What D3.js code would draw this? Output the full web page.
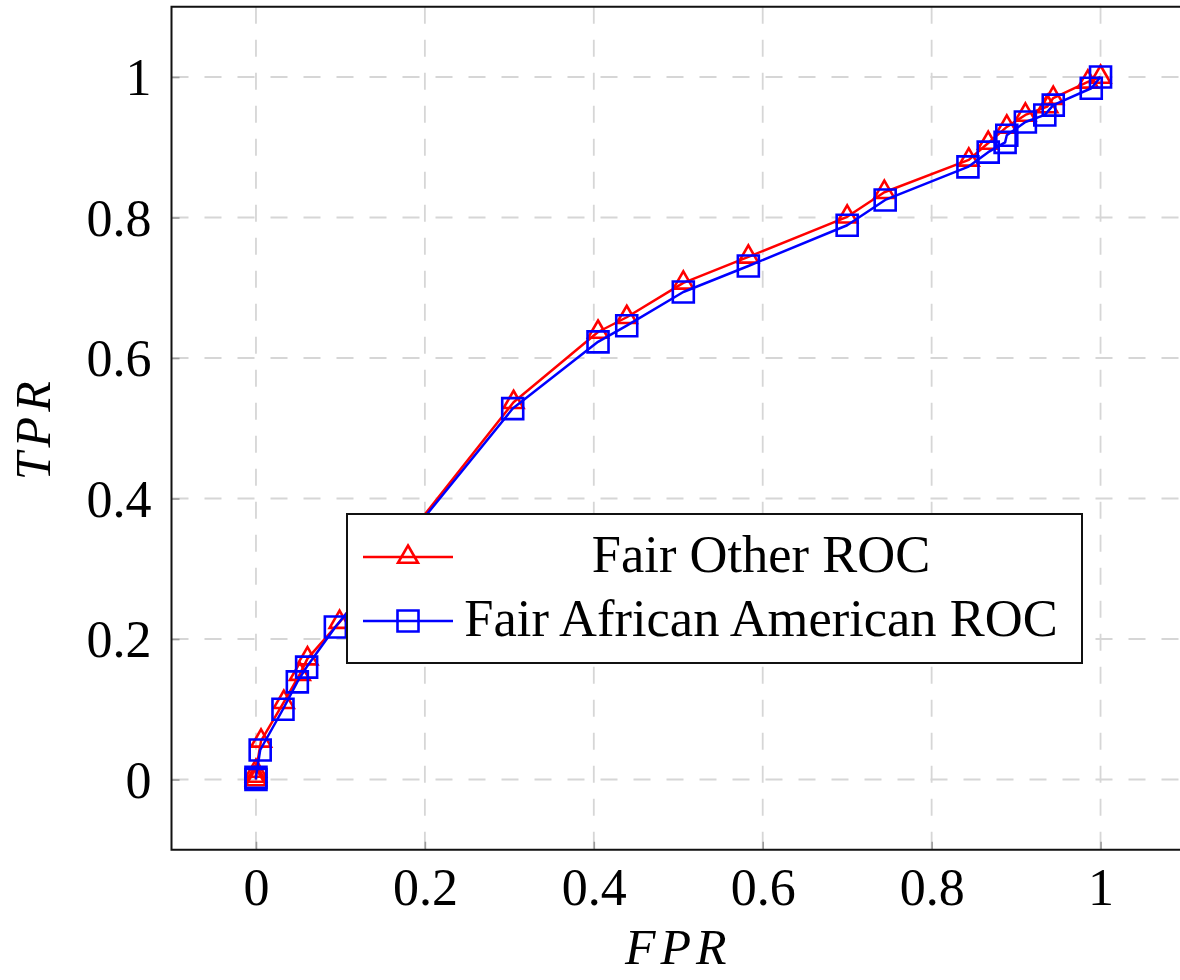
<!DOCTYPE html>
<html>
<head>
<meta charset="utf-8">
<script src="https://cdn.jsdelivr.net/npm/d3@7/dist/d3.min.js"></script>
<style>
  html, body { margin: 0; padding: 0; background: #fff; }
  svg { display: block; }
  text { font-family: "Liberation Serif", "DejaVu Serif", serif; fill: #000; }
</style>
</head>
<body>
<svg id="chart" width="1180" height="980"></svg>
<script>
// ---- data ----
const otherFPR = [0, 0, 0, 0.006, 0.033, 0.052, 0.061, 0.099, 0.305, 0.405, 0.439, 0.506, 0.583, 0.700, 0.744, 0.844, 0.867, 0.889, 0.911, 0.937, 0.944, 0.985, 1];
const otherTPR = [0, 0.005, 0.012, 0.055, 0.110, 0.150, 0.172, 0.224, 0.537, 0.637, 0.658, 0.707, 0.744, 0.801, 0.836, 0.882, 0.906, 0.929, 0.946, 0.958, 0.970, 0.993, 1];
const aaFPR = [0, 0, 0.005, 0.032, 0.049, 0.060, 0.094, 0.304, 0.405, 0.439, 0.506, 0.583, 0.700, 0.745, 0.843, 0.867, 0.887, 0.889, 0.911, 0.934, 0.944, 0.989, 1];
const aaTPR = [0, 0.003, 0.042, 0.100, 0.139, 0.160, 0.217, 0.528, 0.623, 0.646, 0.694, 0.731, 0.789, 0.825, 0.872, 0.893, 0.907, 0.917, 0.936, 0.946, 0.960, 0.984, 1];
const xTicks = [0, 0.2, 0.4, 0.6, 0.8, 1];
const yTicks = [0, 0.2, 0.4, 0.6, 0.8, 1];
const xTickLabels = ["0", "0.2", "0.4", "0.6", "0.8", "1"];
const yTickLabels = ["0", "0.2", "0.4", "0.6", "0.8", "1"];
const seriesNames = ["Fair Other ROC", "Fair African American ROC"];
const xTitle = "FPR";
const yTitle = "TPR";

// ---- layout ----
const svg = d3.select("#chart");
const pL = 171.5, pR = 1185, pT = 6.75, pB = 849.75;
const x = d3.scaleLinear().domain([-0.1, 1.1]).range([pL, pR]);
const y = d3.scaleLinear().domain([-0.1, 1.1]).range([pB, pT]);

// grid
const grid = svg.append("g");
grid.selectAll("line.gx").data(xTicks).join("line")
  .attr("x1", d => x(d)).attr("x2", d => x(d))
  .attr("y1", pT).attr("y2", pB)
  .attr("stroke", "#d6d6d6").attr("stroke-width", 1.8)
  .attr("stroke-dasharray", "17,16");
grid.selectAll("line.gy").data(yTicks).join("line")
  .attr("y1", d => y(d)).attr("y2", d => y(d))
  .attr("x1", pL).attr("x2", pR)
  .attr("stroke", "#d6d6d6").attr("stroke-width", 1.8)
  .attr("stroke-dasharray", "17,16");

// axes via d3 axis (ticks inside, gray)
const xAxis = d3.axisBottom(x).tickValues(xTicks).tickFormat((d, i) => xTickLabels[i]).tickSize(-8).tickPadding(22);
const yAxis = d3.axisLeft(y).tickValues(yTicks).tickFormat((d, i) => yTickLabels[i]).tickSize(-8).tickPadding(22);
const gx = svg.append("g").attr("transform", `translate(0,${pB})`).call(xAxis);
const gy = svg.append("g").attr("transform", `translate(${pL},0)`).call(yAxis);
[gx, gy].forEach(g => {
  g.select(".domain").remove();
  g.selectAll(".tick line").attr("stroke", "#9a9a9a").attr("stroke-width", 1.6);
  g.selectAll(".tick text").style("font-family", '"Liberation Serif", serif').style("font-size", "52px").attr("fill", "#000");
});
gx.selectAll(".tick text").attr("dy", "0.71em").attr("y", 18);
gy.selectAll(".tick text").attr("dy", "0.34em").attr("x", -20);

// frame
svg.append("rect").attr("x", pL).attr("y", pT)
  .attr("width", pR - pL).attr("height", pB - pT)
  .attr("fill", "none").attr("stroke", "#111").attr("stroke-width", 2);

// series
const triPath = r => `M0,${-r}L${r * Math.sqrt(3) / 2},${r / 2}L${-r * Math.sqrt(3) / 2},${r / 2}Z`;
const sqPath = s => `M${-s / 2},${-s / 2}h${s}v${s}h${-s}Z`;

const series = [
  { name: seriesNames[0], xs: otherFPR, ys: otherTPR, color: "#ff0000", mark: triPath(11.5) },
  { name: seriesNames[1], xs: aaFPR, ys: aaTPR, color: "#0000ff", mark: sqPath(21) }
];

const line = d3.line().x(d => x(d[0])).y(d => y(d[1]));
series.forEach(s => {
  const pts = s.xs.map((v, i) => [v, s.ys[i]]);
  const g = svg.append("g");
  g.append("path").attr("d", line(pts)).attr("fill", "none")
    .attr("stroke", s.color).attr("stroke-width", 2.5).attr("stroke-linejoin", "round");
  g.selectAll("path.m").data(pts).join("path").attr("class", "m")
    .attr("d", s.mark)
    .attr("transform", d => `translate(${x(d[0])},${y(d[1])})`)
    .attr("fill", "none").attr("stroke", s.color).attr("stroke-width", 2.6);
});

// legend
const lg = svg.append("g");
lg.append("rect").attr("x", 347).attr("y", 514).attr("width", 735).attr("height", 149)
  .attr("fill", "#fff").attr("stroke", "#111").attr("stroke-width", 2);
const rowsY = [557, 621];
series.forEach((s, i) => {
  lg.append("line").attr("x1", 363).attr("x2", 453).attr("y1", rowsY[i]).attr("y2", rowsY[i])
    .attr("stroke", s.color).attr("stroke-width", 2.5);
  lg.append("path").attr("d", s.mark).attr("transform", `translate(408,${rowsY[i]})`)
    .attr("fill", "none").attr("stroke", s.color).attr("stroke-width", 2.6);
  lg.append("text").attr("x", 761).attr("y", rowsY[i] + 15)
    .attr("text-anchor", "middle").style("font-size", "52.5px").text(s.name);
});

// axis titles
svg.append("text").attr("x", (pL + pR) / 2).attr("y", 964)
  .attr("text-anchor", "middle").style("font-size", "50px").style("font-style", "italic")
  .style("letter-spacing", "5px").text(xTitle);
svg.append("text").attr("transform", `translate(50,${(pT + pB) / 2}) rotate(-90)`)
  .attr("text-anchor", "middle").style("font-size", "50px").style("font-style", "italic")
  .style("letter-spacing", "5px").text(yTitle);
</script>
</body>
</html>
